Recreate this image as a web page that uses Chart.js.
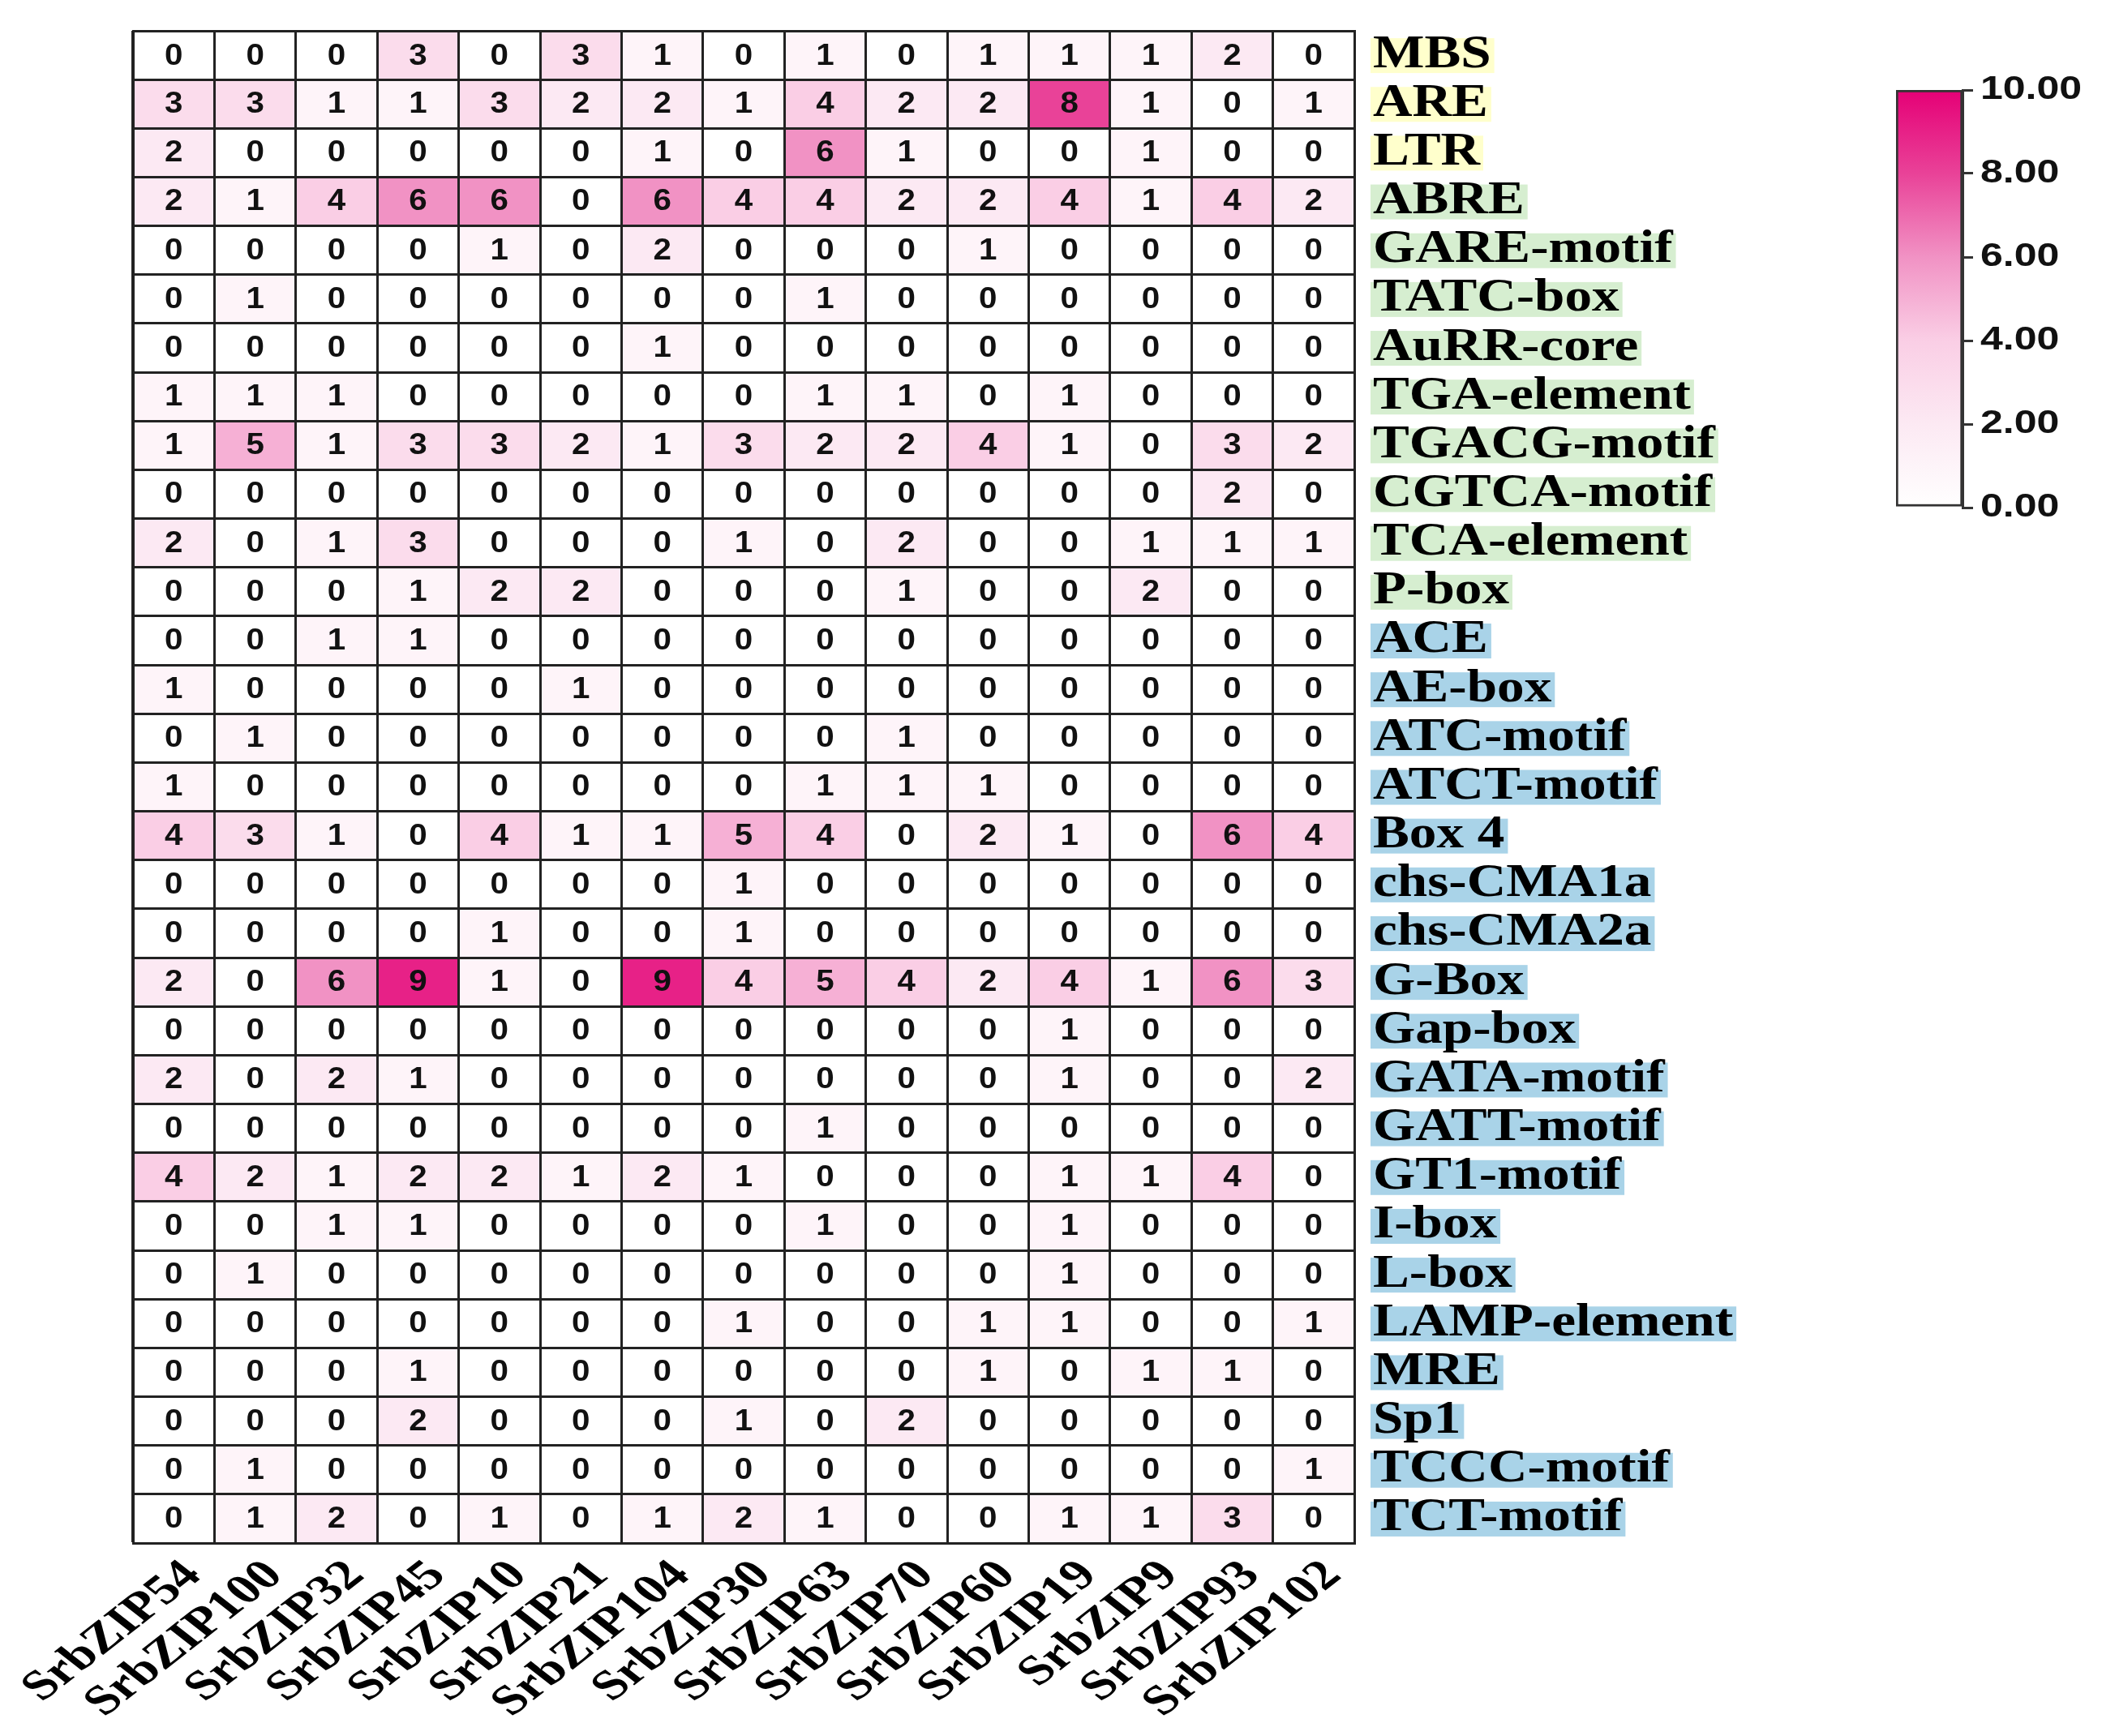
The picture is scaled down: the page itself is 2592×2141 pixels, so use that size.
<!DOCTYPE html>
<html>
<head>
<meta charset="utf-8">
<script src="https://cdn.jsdelivr.net/npm/chart.js@4.4.1/dist/chart.umd.min.js"></script>
<style>
html,body{margin:0;padding:0;background:#fff;}
#wrap{position:relative;width:2592px;height:2141px;background:#fff;overflow:hidden;}
#main{position:absolute;left:0;top:0;width:2592px;height:2141px;}
#leg{position:absolute;left:2338px;top:91px;width:254px;height:560px;}
</style>
</head>
<body>
<div id="wrap">
<canvas id="main" width="2592" height="2141"></canvas>
<canvas id="leg" width="254" height="560"></canvas>
</div>
<script>
// ---------- data ----------
const genes = ["SrbZIP54","SrbZIP100","SrbZIP32","SrbZIP45","SrbZIP10","SrbZIP21","SrbZIP104","SrbZIP30","SrbZIP63","SrbZIP70","SrbZIP60","SrbZIP19","SrbZIP9","SrbZIP93","SrbZIP102"];

const elements = ["MBS","ARE","LTR","ABRE","GARE-motif","TATC-box","AuRR-core","TGA-element","TGACG-motif","CGTCA-motif","TCA-element","P-box","ACE","AE-box","ATC-motif","ATCT-motif","Box 4","chs-CMA1a","chs-CMA2a","G-Box","Gap-box","GATA-motif","GATT-motif","GT1-motif","I-box","L-box","LAMP-element","MRE","Sp1","TCCC-motif","TCT-motif"];

// group of each element (label highlight): stress / hormone / light
const elementGroup = ["stress","stress","stress","hormone","hormone","hormone","hormone","hormone","hormone","hormone","hormone","hormone","light","light","light","light","light","light","light","light","light","light","light","light","light","light","light","light","light","light","light"];

// counts[row][gene]
const counts = [
  [0,0,0,3,0,3,1,0,1,0,1,1,1,2,0],
  [3,3,1,1,3,2,2,1,4,2,2,8,1,0,1],
  [2,0,0,0,0,0,1,0,6,1,0,0,1,0,0],
  [2,1,4,6,6,0,6,4,4,2,2,4,1,4,2],
  [0,0,0,0,1,0,2,0,0,0,1,0,0,0,0],
  [0,1,0,0,0,0,0,0,1,0,0,0,0,0,0],
  [0,0,0,0,0,0,1,0,0,0,0,0,0,0,0],
  [1,1,1,0,0,0,0,0,1,1,0,1,0,0,0],
  [1,5,1,3,3,2,1,3,2,2,4,1,0,3,2],
  [0,0,0,0,0,0,0,0,0,0,0,0,0,2,0],
  [2,0,1,3,0,0,0,1,0,2,0,0,1,1,1],
  [0,0,0,1,2,2,0,0,0,1,0,0,2,0,0],
  [0,0,1,1,0,0,0,0,0,0,0,0,0,0,0],
  [1,0,0,0,0,1,0,0,0,0,0,0,0,0,0],
  [0,1,0,0,0,0,0,0,0,1,0,0,0,0,0],
  [1,0,0,0,0,0,0,0,1,1,1,0,0,0,0],
  [4,3,1,0,4,1,1,5,4,0,2,1,0,6,4],
  [0,0,0,0,0,0,0,1,0,0,0,0,0,0,0],
  [0,0,0,0,1,0,0,1,0,0,0,0,0,0,0],
  [2,0,6,9,1,0,9,4,5,4,2,4,1,6,3],
  [0,0,0,0,0,0,0,0,0,0,0,1,0,0,0],
  [2,0,2,1,0,0,0,0,0,0,0,1,0,0,2],
  [0,0,0,0,0,0,0,0,1,0,0,0,0,0,0],
  [4,2,1,2,2,1,2,1,0,0,0,1,1,4,0],
  [0,0,1,1,0,0,0,0,1,0,0,1,0,0,0],
  [0,1,0,0,0,0,0,0,0,0,0,1,0,0,0],
  [0,0,0,0,0,0,0,1,0,0,1,1,0,0,1],
  [0,0,0,1,0,0,0,0,0,0,1,0,1,1,0],
  [0,0,0,2,0,0,0,1,0,2,0,0,0,0,0],
  [0,1,0,0,0,0,0,0,0,0,0,0,0,0,1],
  [0,1,2,0,1,0,1,2,1,0,0,1,1,3,0]
];

const legendMin = 0;
const legendMax = 10;
const legendStep = 2;

// ---------- styles ----------
const colorStops = [
  [0,  [255,255,255]],
  [2,  [252,233,243]],
  [4,  [250,206,229]],
  [6,  [241,146,196]],
  [8,  [233,66,152]],
  [10, [229,0,118]]
];
const groupColors = { stress: "#FFFFCC", hormone: "#D6EED0", light: "#A9D3E8" };
const gridColor = "#222222";
const rowFont = { family: "Liberation Serif", weight: "bold", size: 56 };
const colFont = { family: "Liberation Serif", weight: "bold", size: 52 };
const rowStretch = 1.2;   // the original figure is stretched horizontally
const colStretch = 1.28;
const cellStretch = 1.12;
const legStretch = 1.25;

function heat(v) {
  for (let i = 1; i < colorStops.length; i++) {
    const [v1, c1] = colorStops[i];
    const [v0, c0] = colorStops[i - 1];
    if (v <= v1) {
      const t = (v - v0) / (v1 - v0);
      const c = c0.map((a, k) => Math.round(a + (c1[k] - a) * t));
      return `rgb(${c[0]},${c[1]},${c[2]})`;
    }
  }
  const c = colorStops[colorStops.length - 1][1];
  return `rgb(${c[0]},${c[1]},${c[2]})`;
}

// draw a scale's tick labels horizontally stretched around each label anchor
function stretchLabels(scale, sx) {
  if (scale._stretched) return;
  scale._stretched = true;
  const orig = scale.drawLabels;
  scale.drawLabels = function (area) {
    const ctx = this.ctx;
    const rot = ctx.rotate;
    ctx.rotate = function (a) { this.transform(sx, 0, 0, 1, 0, 0); rot.call(this, a); };
    try { orig.call(this, area); } finally { delete ctx.rotate; }
  };
}
function noPad(s) { s.paddingTop = 0; s.paddingBottom = 0; s.paddingLeft = 0; s.paddingRight = 0; }

// ---------- plugins ----------
const labelBg = {
  id: "labelBg",
  beforeDraw(chart) {
    stretchLabels(chart.scales.x, colStretch);
    stretchLabels(chart.scales.y2, rowStretch);
    const s = chart.scales.y2;
    const ctx = chart.ctx;
    const pad = s.options.ticks.padding;
    ctx.save();
    ctx.font = `${rowFont.weight} ${rowFont.size}px "${rowFont.family}"`;
    elements.forEach((el, i) => {
      const y = s.getPixelForTick(i);
      const w = ctx.measureText(el).width * rowStretch;
      ctx.fillStyle = groupColors[elementGroup[i]];
      ctx.fillRect(s.left + pad - 3, y - 21, w + 7, 43);
    });
    ctx.restore();
  }
};

const cellText = {
  id: "cellText",
  afterDatasetsDraw(chart) {
    const ctx = chart.ctx;
    ctx.save();
    ctx.font = 'bold 36px "Liberation Sans"';
    ctx.fillStyle = "#111";
    ctx.textAlign = "center";
    ctx.textBaseline = "middle";
    chart.data.datasets.forEach((ds, r) => {
      const meta = chart.getDatasetMeta(r);
      meta.data.forEach((bar, c) => {
        const cy = (bar.y + bar.base) / 2;
        ctx.save();
        ctx.translate(bar.x, cy + 1);
        ctx.scale(cellStretch, 1);
        ctx.fillText(String(counts[r][c]), 0, 0);
        ctx.restore();
      });
    });
    ctx.restore();
  }
};

// ---------- main heatmap ----------
const datasets = elements.map((el, r) => ({
  label: el,
  data: genes.map(() => 1),
  backgroundColor: counts[r].map(v => heat(v)),
  borderWidth: 0,
  barPercentage: 1.0,
  categoryPercentage: 1.0,
  xAxisID: "x",
  yAxisID: "y",
  stack: "cells"
}));

new Chart(document.getElementById("main"), {
  type: "bar",
  data: { labels: genes, datasets },
  options: {
    responsive: false,
    devicePixelRatio: 1,
    animation: false,
    events: [],
    layout: { padding: { top: 38, left: 0, right: 0, bottom: 0 } },
    plugins: { legend: { display: false }, tooltip: { enabled: false } },
    scales: {
      x: {
        type: "category",
        labels: genes,
        stacked: true,
        position: "bottom",
        offset: true,
        grid: { offset: true, color: gridColor, lineWidth: 3, drawTicks: false, z: 1 },
        border: { display: true, color: gridColor, width: 3, z: 1 },
        ticks: {
          autoSkip: false, maxRotation: 45, minRotation: 45, padding: 10, labelOffset: 18,
          color: "#000", font: colFont
        },
        z: 1,
        afterFit(s) { s.height = 238; noPad(s); }
      },
      y: {
        type: "linear",
        stacked: true,
        reverse: true,
        min: 0,
        max: elements.length,
        position: "left",
        ticks: { display: false, stepSize: 1, maxTicksLimit: 100 },
        grid: { color: gridColor, lineWidth: 3, drawTicks: false, z: 1 },
        border: { display: true, color: gridColor, width: 3, z: 1 },
        z: 1,
        afterFit(s) { s.width = 164; noPad(s); }
      },
      y2: {
        type: "category",
        labels: elements,
        position: "right",
        offset: true,
        grid: { drawOnChartArea: false, drawTicks: false },
        border: { display: true, color: gridColor, width: 3, z: 1 },
        ticks: { autoSkip: false, padding: 23, color: "#000", font: rowFont },
        z: 1,
        afterFit(s) { s.width = 922; noPad(s); }
      }
    }
  },
  plugins: [labelBg, cellText]
});

// ---------- colour scale legend ----------
function legendGradient(context) {
  const chart = context.chart;
  const area = chart.chartArea;
  if (!area) return "rgb(229,0,118)";
  const ys = chart.scales.y;
  const g = chart.ctx.createLinearGradient(0, ys.getPixelForValue(legendMin), 0, ys.getPixelForValue(legendMax));
  colorStops.forEach(([v, c]) => {
    g.addColorStop((v - legendMin) / (legendMax - legendMin), `rgb(${c[0]},${c[1]},${c[2]})`);
  });
  return g;
}

new Chart(document.getElementById("leg"), {
  type: "bar",
  data: {
    labels: ["scale"],
    datasets: [{
      data: [legendMax],
      backgroundColor: legendGradient,
      borderColor: "#333",
      borderWidth: 3,
      borderSkipped: false,
      barPercentage: 1.0,
      categoryPercentage: 1.0
    }]
  },
  options: {
    responsive: false,
    devicePixelRatio: 1,
    animation: false,
    events: [],
    layout: { padding: { top: 20, bottom: 25, left: 0, right: 0 } },
    plugins: {
      legend: { display: false },
      tooltip: { enabled: false }
    },
    scales: {
      x: { display: false },
      y: {
        position: "right",
        min: legendMin,
        max: legendMax,
        ticks: {
          stepSize: legendStep,
          callback: v => Number(v).toFixed(2),
          font: { family: "Liberation Sans", weight: "bold", size: 40 },
          color: "#111",
          padding: 9
        },
        grid: { drawOnChartArea: false, color: "#333", lineWidth: 3, tickLength: 13 },
        border: { display: true, color: "#333", width: 3 },
        afterFit(s) { s.width = 172; noPad(s); }
      }
    }
  },
  plugins: [{ id: "legStretch", beforeDraw(chart) { stretchLabels(chart.scales.y, legStretch); } }]
});
</script>
</body>
</html>
